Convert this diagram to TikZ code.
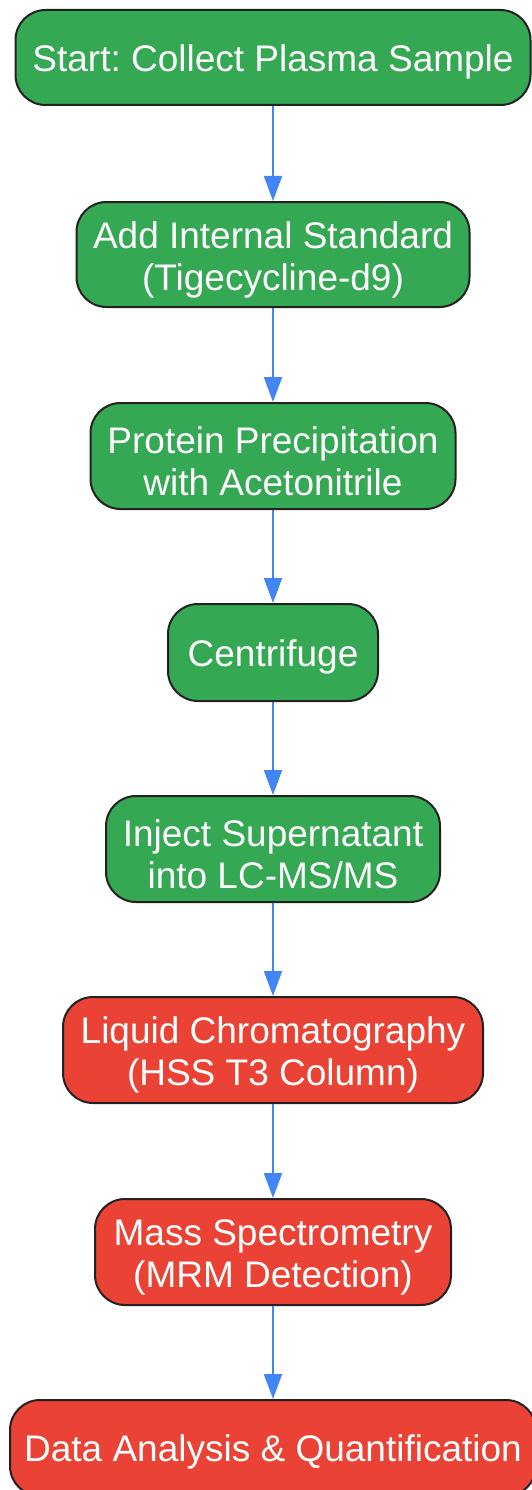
\documentclass[tikz,border=0pt]{standalone}
\usepackage{fontspec}
\setmainfont{Liberation Sans}
\usetikzlibrary{arrows.meta}
\definecolor{gfill}{HTML}{34A853}
\definecolor{rfill}{HTML}{EA4335}
\definecolor{ablue}{HTML}{4285F4}
\definecolor{bord}{HTML}{222222}
\frenchspacing
\tikzset{
  box/.style={draw=bord, line width=2pt, rounded corners=30pt, inner sep=0pt},
  gbox/.style={box, fill=gfill},
  rbox/.style={box, fill=rfill},
  txt/.style={text=white, font=\fontsize{37}{42}\selectfont\frenchspacing, align=center, inner sep=0pt},
  conn/.style={draw=ablue, line width=2pt, -{Triangle[length=25pt,width=18pt]}}
}
\begin{document}
\begin{tikzpicture}[x=1pt,y=-1pt]
\useasboundingbox (0,0) rectangle (531,1490);
\node[gbox, minimum width=515pt, minimum height=95pt] (n1) at (273,57.5) {};
\node[gbox, minimum width=393pt, minimum height=105pt] (n2) at (273,254.5) {};
\node[gbox, minimum width=365pt, minimum height=106pt] (n3) at (273,456) {};
\node[gbox, minimum width=210pt, minimum height=97pt] (n4) at (273,652.5) {};
\node[gbox, minimum width=334pt, minimum height=106pt] (n5) at (273,849) {};
\node[rbox, minimum width=420pt, minimum height=106pt] (n6) at (273,1050) {};
\node[rbox, minimum width=356pt, minimum height=106pt] (n7) at (273,1252) {};
\node[rbox, minimum width=526pt, minimum height=96pt] (n8) at (273,1448) {};
\node[txt] (t1) at ([yshift=-4pt]n1.center) {Start: Collect Plasma Sample};
\node[txt] (t2) at ([yshift=-5pt]n2.center) {Add Internal Standard\\(Tigecycline-d9)};
\node[txt] (t3) at ([yshift=-5pt]n3.center) {Protein Precipitation\\with Acetonitrile};
\node[txt] (t4) at ([yshift=-4pt]n4.center) {Centrifuge};
\node[txt] (t5) at ([yshift=-5pt]n5.center) {Inject Supernatant\\into LC-MS/MS};
\node[txt] (t6) at ([yshift=-5pt]n6.center) {Liquid Chromatography\\(HSS T3 Column)};
\node[txt] (t7) at ([yshift=-5pt]n7.center) {Mass Spectrometry\\(MRM Detection)};
\node[txt] (t8) at ([yshift=-4pt]n8.center) {Data Analysis \& Quantification};
\foreach \a/\b in {n1/n2,n2/n3,n3/n4,n4/n5,n5/n6,n6/n7,n7/n8}
  \draw[conn] (\a.south) -- (\b.north);
\end{tikzpicture}
\end{document}
